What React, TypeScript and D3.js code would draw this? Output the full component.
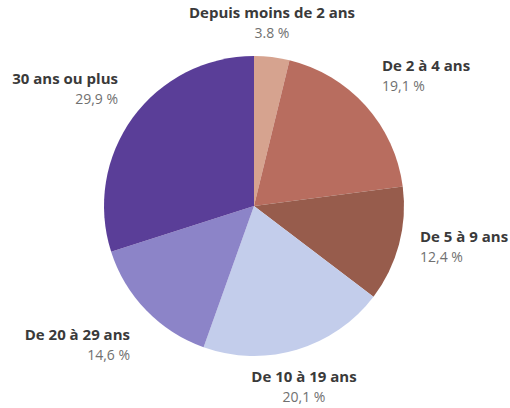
import React from "react";
import * as d3 from "d3";

const categories = ["Depuis moins de 2 ans", "De 2 à 4 ans", "De 5 à 9 ans", "De 10 à 19 ans", "De 20 à 29 ans", "30 ans ou plus"];
const values = [3.8, 19.1, 12.4, 20.1, 14.6, 29.9];
const valueLabels = ["3.8 %", "19,1 %", "12,4 %", "20,1 %", "14,6 %", "29,9 %"];
const colors = ["#d6a38f", "#b86d5f", "#975c4c", "#c3cdeb", "#8c84c8", "#5a3e98"];
const labelPos: [number, number, string][] = [
  [272, 18, "middle"],
  [382, 71, "start"],
  [420, 242, "start"],
  [304, 382, "middle"],
  [130, 340, "end"],
  [118, 84, "end"],
];

export default function App() {
  const W = 510, H = 408;
  const cx = 254, cy = 206, r = 150;
  const pie = d3.pie<number>().sort(null).value((d) => d);
  const arcs = pie(values);
  const arc = d3.arc<d3.PieArcDatum<number>>().innerRadius(0).outerRadius(r);
  return (
    <svg width={W} height={H} style={{ position: "absolute", left: 0, top: 0, background: "#fff" }}>
      <g transform={`translate(${cx},${cy})`}>
        {arcs.map((a, i) => (
          <path key={i} d={arc(a) || ""} fill={colors[i]} />
        ))}
      </g>
      {categories.map((c, i) => {
        const [x, y, anchor] = labelPos[i];
        return (
          <g key={c} fontFamily="'Open Sans', sans-serif" textAnchor={anchor as any}>
            <text x={x} y={y} fontSize={15} fontWeight={700} fill="#3a3a3a">{c}</text>
            <text x={x} y={y + 20} fontSize={14} fill="#707070">{valueLabels[i]}</text>
          </g>
        );
      })}
    </svg>
  );
}
